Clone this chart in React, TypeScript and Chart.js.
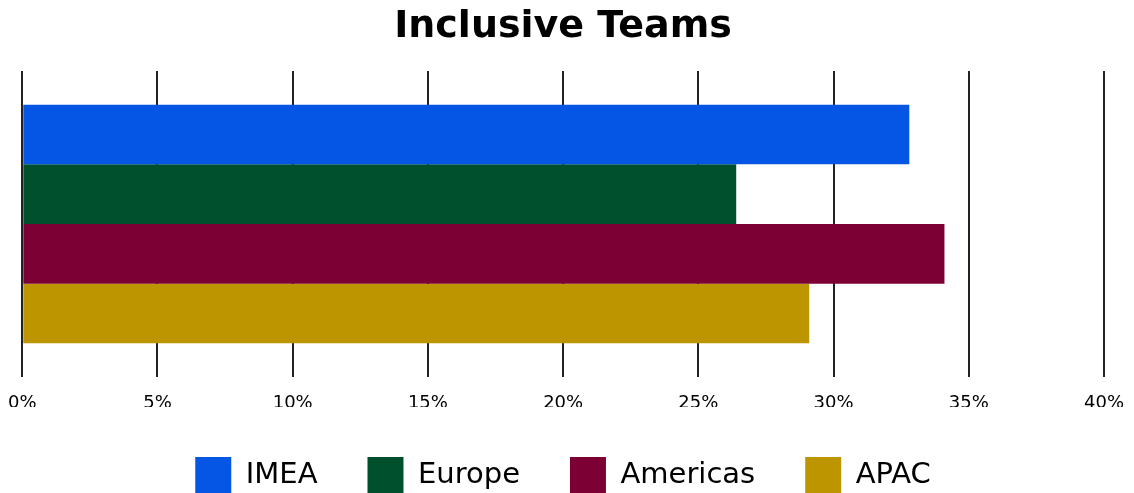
import React, { useEffect, useRef } from "react";
import { Chart, registerables } from "chart.js";

Chart.register(...registerables);

const categories = ["Inclusive Teams"];
const seriesNames = ["IMEA", "Europe", "Americas", "APAC"];
const seriesValues = [[32.8], [26.4], [34.1], [29.1]];
const seriesColors = ["#0656E6", "#00502E", "#7D0034", "#BD9500"];
const xTicks = [0, 5, 10, 15, 20, 25, 30, 35, 40];
const FONT = "'DejaVu Sans', sans-serif";

export default function App() {
  const ref = useRef<HTMLCanvasElement | null>(null);
  useEffect(() => {
    if (!ref.current) return;
    const chart = new Chart(ref.current, {
      type: "bar",
      data: {
        labels: categories,
        datasets: seriesNames.map((n, i) => ({
          label: n,
          data: seriesValues[i],
          backgroundColor: seriesColors[i],
          borderWidth: 0,
        })),
      },
      options: {
        indexAxis: "y",
        animation: false,
        responsive: true,
        maintainAspectRatio: false,
        layout: { padding: { left: 14, right: 22, top: 0, bottom: 0 } },
        plugins: {
          title: {
            display: true,
            text: "Inclusive Teams",
            color: "#000",
            font: { family: FONT, size: 38, weight: "bold", lineHeight: 1 },
            padding: { top: 0, bottom: 25 },
          },
          legend: {
            position: "bottom",
            labels: {
              boxWidth: 36,
              boxHeight: 36,
              padding: 50,
              color: "#000",
              font: { family: FONT, size: 29 },
            },
          },
          tooltip: { enabled: false },
        },
        scales: {
          x: {
            min: 0,
            max: 40,
            afterBuildTicks: (axis: any) => {
              axis.ticks = xTicks.map((v) => ({ value: v }));
            },
            afterFit: (axis: any) => {
              axis.height = 30;
            },
            ticks: {
              color: "#000",
              padding: 0,
              font: { family: FONT, size: 18, lineHeight: 1 },
              callback: (v: any) => v + "%",
            },
            grid: {
              color: "#222",
              lineWidth: 2,
              drawTicks: true,
              tickLength: 17,
              tickColor: "rgba(0,0,0,0)",
            },
            border: { display: false },
          },
          y: {
            display: false,
          },
        },
        datasets: { bar: { categoryPercentage: 0.78, barPercentage: 1 } },
      } as any,
    });
    return () => chart.destroy();
  }, []);
  return (
    <div style={{ width: "100%", height: 495 }}>
      <canvas ref={ref} />
    </div>
  );
}
